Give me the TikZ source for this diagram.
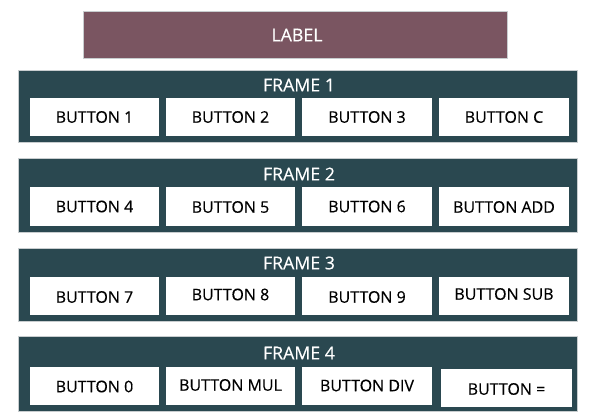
\documentclass[tikz,border=0pt]{standalone}
\usepackage{fontspec}
\setmainfont{Open Sans}
\newfontfamily\heavy{Open Sans}[FakeBold=0.35]
\definecolor{labelfill}{HTML}{7A5561}
\definecolor{framefill}{HTML}{2A4850}
\definecolor{edgegray}{HTML}{C8CDCF}
\tikzset{
  px/.style={x=0.75pt,y=-0.75pt},
  labelbox/.style={draw=edgegray,line width=0.5pt,fill=labelfill},
  framebox/.style={draw=edgegray,line width=0.5pt,fill=framefill},
  frametitle/.style={text=white,font=\heavy\fontsize{13.3}{16}\selectfont,inner sep=0pt},
  btnbox/.style={fill=white,draw=none,text=black,font=\heavy\fontsize{12}{14}\selectfont,inner sep=0pt}
}
\begin{document}
\begin{tikzpicture}[px]
\useasboundingbox (0,0) rectangle (593,419);
% label
\draw[labelbox] (83,11) rectangle (507,58);
\node[frametitle] (label) at (297,35) {LABEL};
% frames
\draw[framebox] (18,70) rectangle (577,142);
\node[frametitle] (f1) at (299,85) {FRAME 1};
\draw[framebox] (18,158) rectangle (577,232);
\node[frametitle] (f2) at (299,174) {FRAME 2};
\draw[framebox] (18,248) rectangle (577,321);
\node[frametitle] (f3) at (299,263) {FRAME 3};
\draw[framebox] (18,336) rectangle (577,411);
\node[frametitle] (f4) at (299,353) {FRAME 4};
% row 1
\fill[white] (30,98) rectangle (159,136);  \node[btnbox] (b1) at (94.5,117) {BUTTON 1};
\fill[white] (166,98) rectangle (295,136); \node[btnbox] (b2) at (230.5,117) {BUTTON 2};
\fill[white] (302,98) rectangle (432,136); \node[btnbox] (b3) at (367,117) {BUTTON 3};
\fill[white] (439,98) rectangle (569,136); \node[btnbox] (bc) at (504,117) {BUTTON C};
% row 2
\fill[white] (30,187) rectangle (159,226);  \node[btnbox] (b4) at (94.5,206.5) {BUTTON 4};
\fill[white] (166,187) rectangle (295,226); \node[btnbox] (b5) at (230.5,207) {BUTTON 5};
\fill[white] (302,187) rectangle (432,226); \node[btnbox] (b6) at (367,206.5) {BUTTON 6};
\fill[white] (439,187) rectangle (569,226); \node[btnbox] (badd) at (504,207) {BUTTON ADD};
% row 3
\fill[white] (30,277) rectangle (159,315);  \node[btnbox] (b7) at (94.5,297) {BUTTON 7};
\fill[white] (166,277) rectangle (295,315); \node[btnbox] (b8) at (230.5,294.5) {BUTTON 8};
\fill[white] (302,277) rectangle (432,315); \node[btnbox] (b9) at (367,297) {BUTTON 9};
\fill[white] (439,277) rectangle (569,315); \node[btnbox] (bsub) at (504,294) {BUTTON SUB};
% row 4
\fill[white] (30,367) rectangle (159,405);  \node[btnbox] (b0) at (94.5,386.5) {BUTTON 0};
\fill[white] (166,367) rectangle (295,405); \node[btnbox] (bmul) at (230.5,385) {BUTTON MUL};
\fill[white] (302,367) rectangle (432,405); \node[btnbox] (bdiv) at (367,385.5) {BUTTON DIV};
\fill[white] (441,369) rectangle (572,407); \node[btnbox] (beq) at (506.5,389) {BUTTON =};
\end{tikzpicture}
\end{document}
